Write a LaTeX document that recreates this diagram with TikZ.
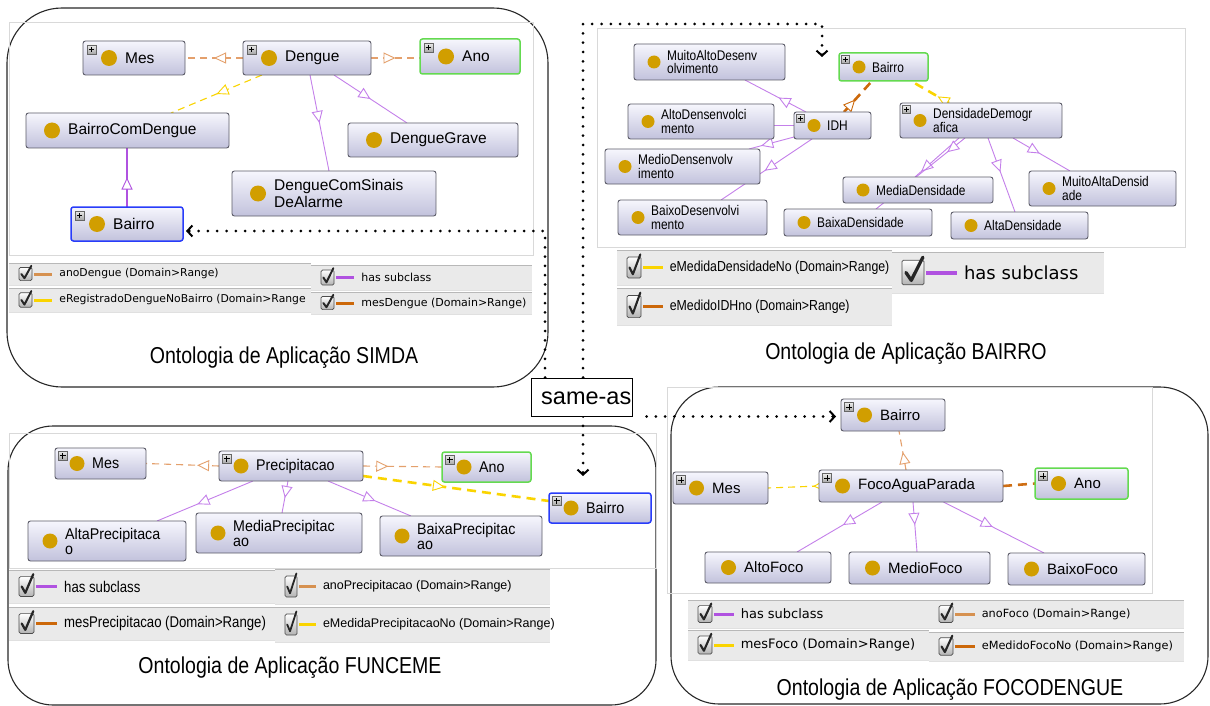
\documentclass[tikz,border=0pt]{standalone}
\usepackage{fontspec}
\setmainfont{Liberation Sans}
\newfontfamily\fLib{Liberation Sans}
\newfontfamily\fNarrow[FakeStretch=0.85]{Liberation Sans}
\newfontfamily\fSemi[FakeStretch=0.92]{Liberation Sans}
\newfontfamily\fDeja{DejaVu Sans}
\usetikzlibrary{arrows.meta,decorations.markings,calc}
\pgfdeclarelayer{back}\pgfdeclarelayer{bg}\pgfsetlayers{back,bg,main}
\newcommand\fsz[2]{\fontsize{#1}{#2}\selectfont}

\definecolor{subc}{RGB}{196,128,234}
\definecolor{subcleg}{RGB}{176,82,224}
\definecolor{tanc}{RGB}{214,145,80}
\definecolor{tanedge}{RGB}{228,160,108}
\definecolor{orc}{RGB}{204,104,10}
\definecolor{yelc}{RGB}{250,212,0}
\definecolor{goldc}{RGB}{209,158,0}
\definecolor{greenb}{RGB}{100,218,80}
\definecolor{blueb}{RGB}{40,60,250}
\definecolor{boxb}{RGB}{92,92,104}
\definecolor{boxtop}{RGB}{246,246,253}
\definecolor{boxbot}{RGB}{194,194,220}
\definecolor{legf}{RGB}{234,234,234}
\definecolor{panelc}{RGB}{40,40,40}

\tikzset{
 clsbox/.style={draw=boxb, line width=0.9pt, rounded corners=2.5pt, top color=boxtop, bottom color=boxbot, inner sep=0pt, outer sep=0pt},
 greenbox/.style={draw=greenb, line width=1.5pt},
 bluebox/.style={draw=blueb, line width=1.5pt},
 midtri/.style={postaction={decorate}, decoration={markings, mark=at position #1 with {\arrow{Triangle[open, fill=white, length=12pt, width=11pt, line width=0.9pt]}}}},
 midtri/.default=0.5,
 subline/.style={subc, line width=0.9pt},
 propedge/.style={line width=1.1pt, dash pattern=on 7pt off 5pt},
 thickprop/.style={line width=2.6pt, dash pattern=on 9pt off 6pt},
 panel/.style={draw=panelc, line width=1.1pt, fill=white},
 screen/.style={draw=black!15, line width=0.6pt},
 sameas/.style={black, line width=3pt, dash pattern=on 0pt off 9.3pt, line cap=round},
 saarrow/.style={-{Straight Barb[length=5pt,width=11pt,line width=2pt]}},
 chkbox/.style={draw=black!70, line width=0.7pt, rounded corners=1.5pt, top color=white, bottom color=black!30},
 ttl/.style={font=\fNarrow\fsz{23}{27}, inner sep=0pt},
}

% panel parameters: text offset, circle offset, circle radius, plus offset, plus size, font
\newcommand\panelset[6]{\def\clP{#1}\def\clC{#2}\def\clR{#3}\def\plO{#4}\def\plS{#5}\def\clF{#6}}

% class node: name, extra style, x1, y1, x2, y2, text, plus flag
\newcommand\cls[8]{%
 \pgfmathsetmacro\clsW{#5-#3}%
 \pgfmathsetmacro\clsH{#6-#4}%
 \pgfmathsetmacro\clsX{(#3+#5)/2}%
 \pgfmathsetmacro\clsY{(#4+#6)/2}%
 \node[clsbox, minimum width=\clsW pt, minimum height=\clsH pt, #2] (#1) at (\clsX,\clsY) {};
 \node[anchor=west, font=\clF, align=left, inner sep=0pt] (#1t) at ([xshift=\clP pt]#1.west) {#7};
 \fill[goldc] ([xshift=\clC pt]#1.west) circle (\clR pt);
 \ifnum#8=1
  \pgfmathsetmacro\plA{\plO+0.2*\plS}%
  \pgfmathsetmacro\plB{\plO+0.5*\plS}%
  \pgfmathsetmacro\plC{\plO+0.8*\plS}%
  \draw[black!60, line width=0.6pt, top color=black!8, bottom color=black!35] ([shift={(\plO,\plO)}]#1.north west) rectangle ++(\plS,\plS);
  \draw[black, line width=0.9pt] ([shift={(\plA,\plB)}]#1.north west) -- ([shift={(\plC,\plB)}]#1.north west) ([shift={(\plB,\plA)}]#1.north west) -- ([shift={(\plB,\plC)}]#1.north west);
 \fi
}

% legend row: name, x1, y1, x2, y2, checkbox width, bar style, font, text
\newcommand\legrow[9]{%
 \fill[legf] (#2,#3) rectangle (#4,#5);
 \draw[black!28, line width=0.8pt] (#2,#3) -- (#4,#3);
 \draw[black!12, line width=0.8pt] (#2,#5) -- (#4,#5);
 \pgfmathsetmacro\lgCY{(#3+#5)/2}%
 \pgfmathsetmacro\lgH{0.6*(#5-#3)}%
 \pgfmathsetmacro\lgXa{#2+10}%
 \pgfmathsetmacro\lgXb{#2+10+#6}%
 \pgfmathsetmacro\lgYa{\lgCY-\lgH/2}%
 \pgfmathsetmacro\lgYb{\lgCY+\lgH/2}%
 \draw[chkbox] (\lgXa,\lgYa) rectangle (\lgXb,\lgYb);
 \pgfmathsetmacro\ckAx{\lgXa+0.18*#6}%
 \pgfmathsetmacro\ckBx{\lgXa+0.42*#6}\pgfmathsetmacro\ckBy{\lgCY+0.32*\lgH}%
 \pgfmathsetmacro\ckCx{\lgXa+0.95*#6}\pgfmathsetmacro\ckCy{\lgCY-0.62*\lgH}%
 \pgfmathsetmacro\ckW{0.15*#6}%
 \draw[black!85, line width=\ckW pt, line cap=round, line join=round] (\ckAx,\lgCY) -- (\ckBx,\ckBy) -- (\ckCx,\ckCy);
 \pgfmathsetmacro\lgBa{\lgXb+2}\pgfmathsetmacro\lgBb{\lgXb+2+1.4*#6}%
 \draw[#7] (\lgBa,\lgCY) -- (\lgBb,\lgCY);
 \pgfmathsetmacro\lgT{\lgBb+7}%
 \node[anchor=west, font=#8, inner sep=0pt] (#1) at (\lgT,\lgCY) {#9};
}

\begin{document}
\begin{tikzpicture}[x=1pt,y=-1pt]
\useasboundingbox (0,0) rectangle (1210,706);
\begin{pgfonlayer}{back}
 \fill[white] (0,0) rectangle (1210,706);
 \draw[panel, rounded corners=55pt] (7,8) rectangle (548,387);
 \draw[panel, rounded corners=45pt] (8,426) rectangle (656,705);
 \draw[panel, rounded corners=48pt] (671,387) rectangle (1208,704);
 \draw[screen] (9,22) rectangle (533,255);
 \draw[screen] (597,28) rectangle (1185,247);
 \draw[screen] (9,433) rectangle (656,568);
 \draw[screen] (667,387) rectangle (1152,593);
\end{pgfonlayer}

% ---------------- SIMDA ----------------
\panelset{42}{26}{8}{4}{9}{\fLib\fsz{15.5}{16.7}}
\cls{sMes}{}{83}{41}{185}{75}{Mes}{1}
\cls{sDengue}{}{243}{41}{371}{75}{Dengue}{1}
\cls{sAno}{greenbox}{420}{39}{520}{74}{Ano}{1}
\cls{sBCD}{}{26}{113}{229}{148}{BairroComDengue}{0}
\cls{sDG}{}{348}{123}{518}{157}{DengueGrave}{0}
\cls{sDCS}{}{232}{171}{436}{216}{DengueComSinais\\DeAlarme}{0}
\cls{sBairro}{bluebox}{71}{207}{183}{241}{Bairro}{1}
\begin{pgfonlayer}{bg}
 \draw[tanedge, propedge, midtri] (sDengue.west) -- (sMes.east);
 \draw[tanedge, propedge, midtri] (sDengue.east) -- (sDengue.east -| sAno.west);
 \draw[yelc, propedge, midtri] ([xshift=19pt]sDengue.south west) -- ([xshift=145pt]sBCD.north west);
 \draw[subline, midtri] ([xshift=67pt]sDengue.south west) -- ([xshift=97pt]sDCS.north west);
 \draw[subline, midtri] ([xshift=91pt]sDengue.south west) -- ([xshift=59pt]sDG.north west);
 \draw[subcleg, line width=2pt, midtri] (sBairro.north) -- (sBairro.north |- sBCD.south);
\end{pgfonlayer}
\legrow{lS1}{9}{263}{311}{285}{13}{tanc,line width=3pt}{\fDeja\fsz{10.8}{13}}{anoDengue (Domain>Range)}
\legrow{lS2}{9}{288}{311}{312}{13}{yelc,line width=3pt}{\fDeja\fsz{10.8}{13}}{eRegistradoDengueNoBairro (Domain>Range}
\legrow{lS3}{311}{265}{532}{290}{13}{subcleg,line width=3pt}{\fDeja\fsz{11}{13}}{has subclass}
\legrow{lS4}{311}{292}{532}{314}{13}{orc,line width=3pt}{\fDeja\fsz{11}{13}}{mesDengue (Domain>Range)}
\node[ttl] (tS) at (284,358) {Ontologia de Aplicação SIMDA};

% ---------------- BAIRRO ----------------
\panelset{33}{20}{6.5}{2.5}{8}{\fNarrow\fsz{14}{13.5}}
\cls{bMuito}{}{634}{44}{785}{80}{MuitoAltoDesenv\\olvimento}{0}
\cls{bBairro}{greenbox}{839}{53}{928}{81}{Bairro}{1}
\cls{bAlto}{}{628}{104}{774}{139}{AltoDensenvolci\\mento}{0}
\cls{bIDH}{}{794}{112}{871}{139}{IDH}{1}
\cls{bDens}{}{900}{103}{1062}{138}{DensidadeDemogr\\afica}{1}
\cls{bMedio}{}{605}{149}{760}{184}{MedioDensenvolv\\imento}{0}
\cls{bMedia}{}{843}{177}{993}{203}{MediaDensidade}{0}
\cls{bMuitoAlta}{}{1029}{171}{1176}{206}{MuitoAltaDensid\\ade}{0}
\cls{bBaixo}{}{618}{200}{767}{235}{BaixoDesenvolvi\\mento}{0}
\cls{bBaixa}{}{784}{209}{932}{236}{BaixaDensidade}{0}
\cls{bAltaD}{}{951}{212}{1088}{239}{AltaDensidade}{0}
\begin{pgfonlayer}{bg}
 \draw[orc, thickprop, midtri=0.4] ([xshift=50pt]bIDH.north west) -- ([xshift=33pt]bBairro.south west);
 \draw[yelc, thickprop, midtri=0.3] ([xshift=49pt]bDens.north west) -- ([xshift=72pt]bBairro.south west);
 \draw[subline, midtri=0.45] ([xshift=12pt]bIDH.north west) -- ([xshift=111pt]bMuito.south west);
 \draw[subline] (bIDH.west) -- (bIDH.west -| bAlto.east);
 \draw[subline, midtri=0.73] ([yshift=2pt]bIDH.south west) -- ([xshift=144pt]bMedio.north west);
 \draw[subline, midtri=0.52] ([xshift=18pt]bIDH.south west) -- ([xshift=103pt]bBaixo.north west);
 \draw[subline, midtri=0.86] ([xshift=59pt]bDens.south west) -- ([xshift=72pt]bMedia.north west);
 \draw[subline, midtri=0.2] ([xshift=65pt]bDens.south west) -- ([xshift=92pt]bBaixa.north west);
 \draw[subline, midtri=0.46] ([xshift=88pt]bDens.south west) -- ([xshift=64pt]bAltaD.north west);
 \draw[subline, midtri=0.47] ([xshift=113pt]bDens.south west) -- ([xshift=41pt]bMuitoAlta.north west);
\end{pgfonlayer}
\legrow{lB1}{617}{250}{892}{285}{14}{yelc,line width=3pt}{\fNarrow\fsz{14.5}{16}}{eMedidaDensidadeNo (Domain>Range)}
\legrow{lB2}{617}{288}{892}{325}{14}{orc,line width=3pt}{\fNarrow\fsz{14.5}{16}}{eMedidoIDHno (Domain>Range)}
\legrow{lB3}{892}{252}{1104}{293}{22}{subcleg,line width=4pt}{\fDeja\fsz{18}{20}}{has subclass}
\node[ttl] (tB) at (906,354) {Ontologia de Aplicação BAIRRO};

% ---------------- FUNCEME ----------------
\panelset{37}{22}{7.5}{3}{9.5}{\fSemi\fsz{15.5}{15}}
\cls{fMes}{}{55}{448}{146}{479}{Mes}{1}
\cls{fPrec}{}{219}{451}{363}{481}{Precipitacao}{1}
\cls{fAno}{greenbox}{442}{452}{531}{482}{Ano}{1}
\cls{fBairro}{bluebox}{549}{493}{651}{523}{Bairro}{1}
\cls{fAlta}{}{28}{521}{186}{561}{AltaPrecipitaca\\o}{0}
\cls{fMedia}{}{196}{513}{362}{553}{MediaPrecipitac\\ao}{0}
\cls{fBaixa}{}{380}{516}{542}{556}{BaixaPrecipitac\\ao}{0}
\begin{pgfonlayer}{bg}
 \draw[tanedge, propedge, midtri=0.3] (fPrec.west) -- (fMes.east);
 \draw[tanedge, propedge, midtri=0.32] (fPrec.east) -- (fAno.west);
 \draw[yelc, thickprop, midtri=0.44] ([yshift=-10pt]fPrec.east) -- ([yshift=7pt]fBairro.west);
 \draw[subline, midtri=0.58] ([xshift=34pt]fPrec.south west) -- ([xshift=129pt]fAlta.north west);
 \draw[subline, midtri=0.53] ([xshift=69pt]fPrec.south west) -- ([xshift=86pt]fMedia.north west);
 \draw[subline, midtri=0.57] ([xshift=109pt]fPrec.south west) -- ([xshift=31pt]fBaixa.north west);
\end{pgfonlayer}
\legrow{lF1}{9}{570}{275}{603}{15}{subcleg,line width=3pt}{\fNarrow\fsz{15.5}{17}}{has subclass}
\legrow{lF2}{9}{607}{275}{640}{15}{orc,line width=3.5pt}{\fNarrow\fsz{15.5}{17}}{mesPrecipitacao (Domain>Range)}
\legrow{lF3}{275}{569}{550}{604}{12}{tanc,line width=3pt}{\fLib\fsz{12.5}{14}}{anoPrecipitacao (Domain>Range)}
\legrow{lF4}{275}{607}{550}{642}{12}{yelc,line width=3pt}{\fLib\fsz{12.5}{14}}{eMedidaPrecipitacaoNo (Domain>Range)}
\node[ttl] (tF) at (290,668) {Ontologia de Aplicação FUNCEME};

% ---------------- FOCODENGUE ----------------
\panelset{39}{23.5}{7.5}{3.5}{9}{\fLib\fsz{15}{17}}
\cls{oBairro}{}{841}{399}{945}{431}{Bairro}{1}
\cls{oMes}{}{673}{472}{768}{504}{Mes}{1}
\cls{oFoco}{}{819}{470}{1003}{502}{FocoAguaParada}{1}
\cls{oAno}{greenbox}{1035}{468}{1128}{499}{Ano}{1}
\cls{oAlto}{}{705}{552}{831}{583}{AltoFoco}{0}
\cls{oMedio}{}{849}{552}{990}{584}{MedioFoco}{0}
\cls{oBaixo}{}{1008}{553}{1145}{585}{BaixoFoco}{0}
\begin{pgfonlayer}{bg}
 \draw[tanedge, propedge, midtri=0.46] ([xshift=87pt]oFoco.north west) -- ([xshift=58pt]oBairro.south west);
 \draw[yelc, propedge, midtri=0.12] (oFoco.west) -- (oMes.east);
 \draw[orc!85!tanc, thickprop] (oFoco.east) -- (oAno.west);
 \draw[subline, midtri=0.46] ([xshift=63pt]oFoco.south west) -- ([xshift=92pt]oAlto.north west);
 \draw[subline, midtri=0.46] ([xshift=94pt]oFoco.south west) -- ([xshift=68pt]oMedio.north west);
 \draw[subline, midtri=0.49] ([xshift=124.5pt]oFoco.south west) -- ([xshift=36pt]oBaixo.north west);
\end{pgfonlayer}
\legrow{lO1}{688}{600}{929}{628}{14}{subcleg,line width=3pt}{\fDeja\fsz{13}{15}}{has subclass}
\legrow{lO2}{688}{630}{929}{660}{14}{yelc,line width=3pt}{\fDeja\fsz{13}{15}}{mesFoco (Domain>Range)}
\legrow{lO3}{929}{600}{1184}{628}{14}{tanc,line width=3pt}{\fDeja\fsz{11.3}{13}}{anoFoco (Domain>Range)}
\legrow{lO4}{929}{632}{1184}{661}{14}{orc,line width=3pt}{\fDeja\fsz{11.3}{13}}{eMedidoFocoNo (Domain>Range)}
\node[ttl] (tO) at (950,690) {Ontologia de Aplicação FOCODENGUE};

% ---------------- same-as ----------------
\node[draw=black, line width=1pt, fill=white, minimum width=101pt, minimum height=38pt, inner sep=0pt] (sa) at (581.5,397) {};
\node[anchor=west, font=\fLib\fsz{23.5}{26}, inner sep=0pt] (saText) at (541,398.5) {same-as};
\coordinate (saL) at (545,231);
\coordinate (saTurn) at (583,24);
\coordinate (bArrow) at (822,57);
\coordinate (fArrow) at (583,476);
\begin{pgfonlayer}{bg}
 \draw[sameas, saarrow, shorten >=3pt] (sa.north -| saL) -- (saL) -- (saL -| sBairro.east);
 \draw[sameas, saarrow] (sa.north -| saTurn) -- (saTurn) -| (bArrow);
 \draw[sameas, saarrow] (sa.south -| fArrow) -- (fArrow);
 \draw[sameas, saarrow, shorten <=14pt, shorten >=5pt] (sa.south east) -- (sa.south east -| oBairro.west);
\end{pgfonlayer}
\end{tikzpicture}
\end{document}
